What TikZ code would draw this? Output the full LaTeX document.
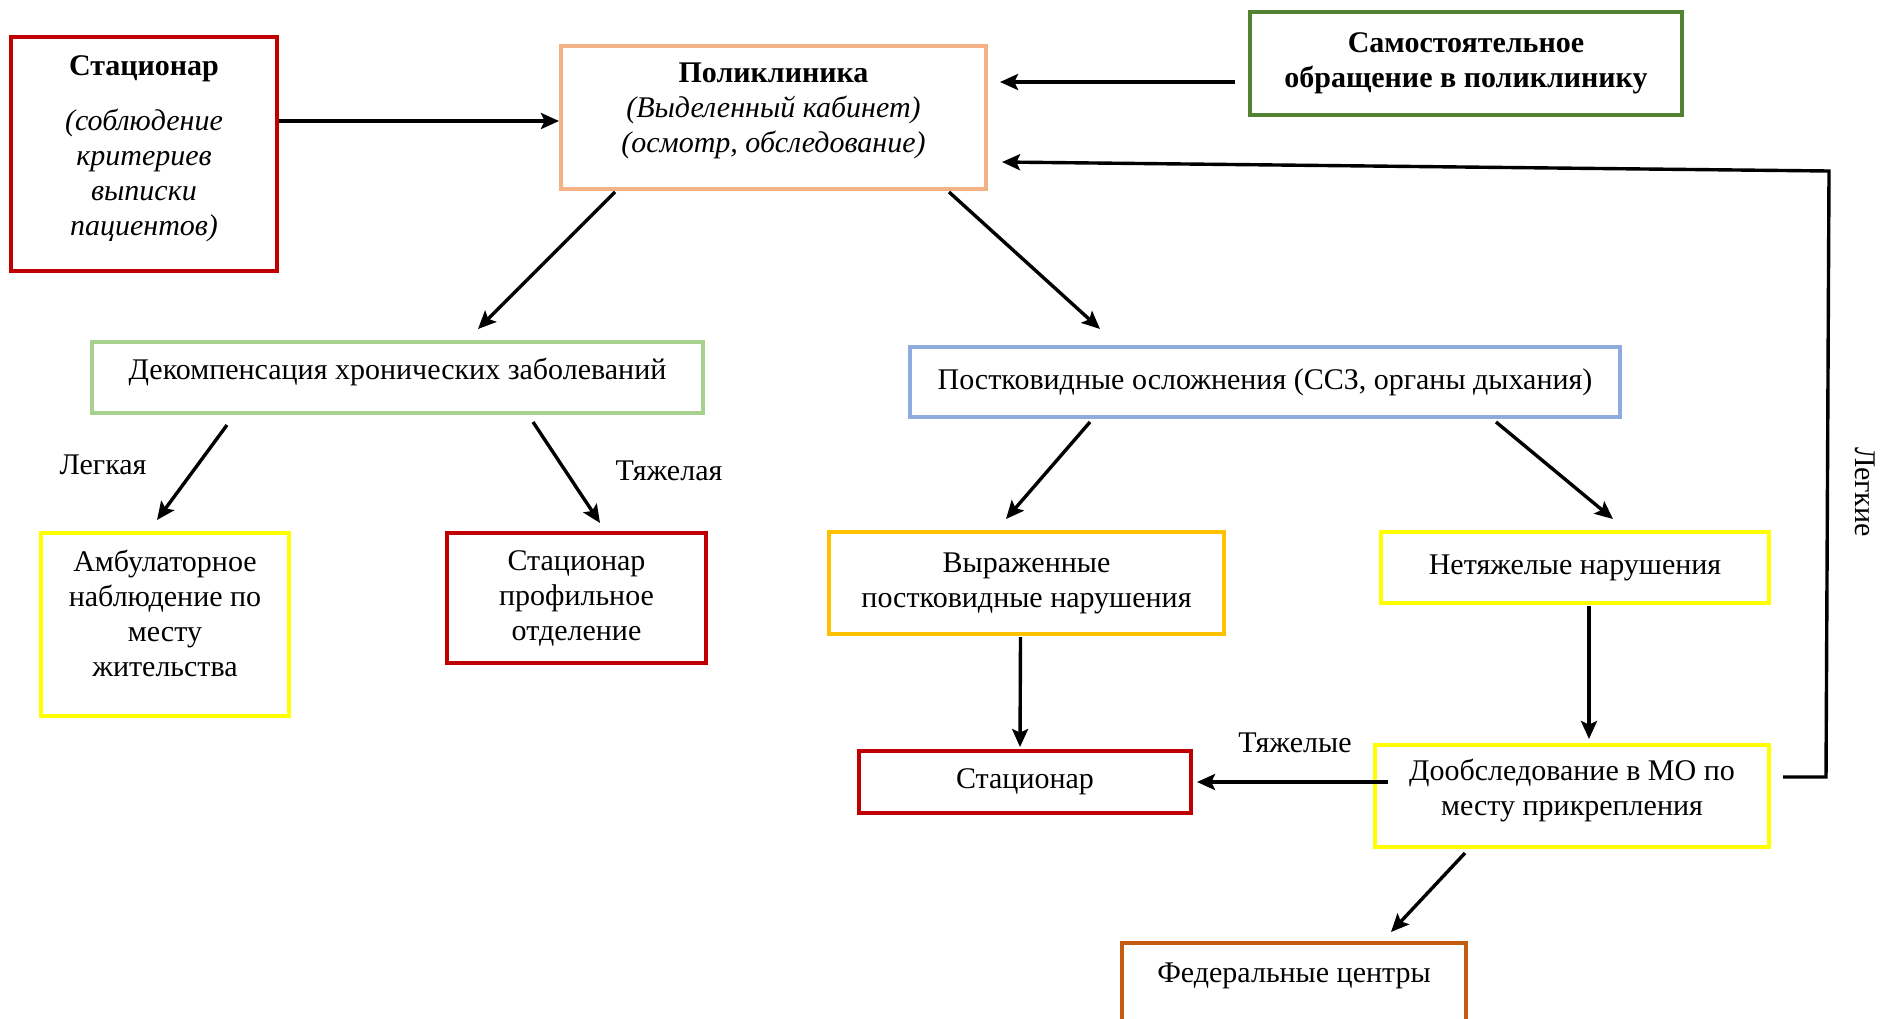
\documentclass[tikz,border=0pt]{standalone}
\usepackage{fontspec}
\setmainfont{Liberation Serif}
\usetikzlibrary{calc,arrows.meta,positioning}
\definecolor{cred}{HTML}{C00000}
\definecolor{cpeach}{HTML}{F4B183}
\definecolor{cgreen}{HTML}{548235}
\definecolor{clgreen}{HTML}{A9D18E}
\definecolor{cblue}{HTML}{8FAADC}
\definecolor{cyell}{HTML}{FFFF00}
\definecolor{cgold}{HTML}{FFC000}
\definecolor{cbrown}{HTML}{C55A11}
\tikzset{
  box/.style={rectangle, draw, line width=2pt, fill=white, align=center, inner sep=0pt,
    font=\fontsize{15}{17.5}\selectfont},
  rbox/.style={box, draw=cred},
  ybox/.style={box, draw=cyell},
  arr/.style={-{Stealth[length=9pt, width=8pt, inset=1.8pt]}, line width=1.7pt},
  lbl/.style={font=\fontsize{15}{17.5}\selectfont},
}

\begin{document}
\begin{tikzpicture}[x=0.5pt, y=-0.5pt]
  \useasboundingbox (0,0) rectangle (1883,1018);

  % --- top row ---
  \node[rbox, minimum width=133pt, minimum height=117pt, text depth=8pt] (stac) at (144,154)
    {\textbf{Стационар}\\[10pt] \textit{(соблюдение}\\ \textit{критериев}\\ \textit{выписки}\\ \textit{пациентов)}};
  \node[box, draw=cpeach, minimum width=212.5pt, minimum height=71.5pt, text depth=10pt] (polikl) at (773.5,117.5)
    {\textbf{Поликлиника}\\ \textit{(Выделенный кабинет)}\\ \textit{(осмотр, обследование)}};
  \node[box, draw=cgreen, minimum width=216pt, minimum height=51.5pt] (samost) at (1466,63.5)
    {\textbf{Самостоятельное}\\ \textbf{обращение в поликлинику}};

  % --- second row ---
  \node[box, draw=clgreen, minimum width=305.5pt, minimum height=35.5pt, text depth=8.3pt] (dekomp) at (397.5,377.5)
    {Декомпенсация хронических заболеваний};
  \node[box, draw=cblue, minimum width=355pt, minimum height=35pt] (postk) at (1265,382)
    {Постковидные осложнения (ССЗ, органы дыхания)};

  % --- third row ---
  \node[ybox, minimum width=124pt, minimum height=91.5pt, text depth=11pt] (ambul) at (165,624.5)
    {Амбулаторное\\ наблюдение по\\ месту\\ жительства};
  \node[rbox, minimum width=129.5pt, minimum height=65pt] (stprof) at (576.5,598)
    {Стационар\\ профильное\\ отделение};
  \node[box, draw=cgold, minimum width=197.5pt, minimum height=51pt] (vyrazh) at (1026.5,583)
    {Выраженные\\ постковидные нарушения};
  \node[ybox, minimum width=194pt, minimum height=35.5pt] (netyazh) at (1575,567.5)
    {Нетяжелые нарушения};

  % --- bottom ---
  \node[rbox, minimum width=166pt, minimum height=31pt] (stac2) at (1025,782) {Стационар};
  \node[ybox, minimum width=197pt, minimum height=51pt, text depth=8.3pt] (doobsl) at (1572,796)
    {Дообследование в МО по\\ месту прикрепления};
  \node[box, draw=cbrown, minimum width=172pt, minimum height=39pt, text depth=9.3pt] (feder) at (1294,982)
    {Федеральные центры};

  % labels
  \node[lbl] (llegk) at (103,465) {Легкая};
  \node[lbl] (ltyazh) at (669,471) {Тяжелая};
  \node[lbl] (ltyazh2) at (1295,743) {Тяжелые};
  \node[lbl, rotate=-90] (llegk2) at (1865,492) {Легкие};

  % arrows
  \draw[arr, line width=2pt] (stac.east |- 0,121) -- (polikl.west |- 0,121);
  \draw[arr] ($(samost.west)+(-13,18.5)$) -- ($(polikl.east)+(12,-35.5)$);
  \draw[arr] ($(polikl.south)+(-158.5,1)$) -- ($(dekomp.north)+(80.5,-11)$);
  \draw[arr] ($(polikl.south)+(175.5,1)$) -- ($(postk.north)+(-165,-16)$);
  \draw[arr] ($(dekomp.south)+(-170.5,10)$) -- ($(ambul.north)+(-8,-11)$);
  \draw[arr] ($(dekomp.south)+(135.5,7)$) -- ($(stprof.north)+(23.5,-8)$);
  \draw[arr] ($(postk.south)+(-175,3)$) -- ($(vyrazh.north)+(-20.5,-11)$);
  \draw[arr] ($(postk.south)+(231,3)$) -- ($(netyazh.north)+(38,-11)$);
  \draw[arr] ($(vyrazh.south)+(-6,1)$) -- ($(stac2.north)+(-5,-2)$);
  \draw[arr] ($(netyazh.south)+(14,1)$) -- ($(doobsl.north)+(17,-4)$);
  \draw[arr] ($(doobsl.west)+(15,-14)$) -- ($(stac2.east)+(4,0)$);
  \draw[arr] ($(doobsl.south)+(-107,4)$) -- ($(feder.north)+(97,-9)$);

  % loop back to polyclinic
  \coordinate (bend) at (1829,171);
  \draw[arr] ($(doobsl.east)+(12,-19)$) -- ++(43,0) -- (bend) -- ($(polikl.east)+(14,44.5)$);
\end{tikzpicture}
\end{document}
